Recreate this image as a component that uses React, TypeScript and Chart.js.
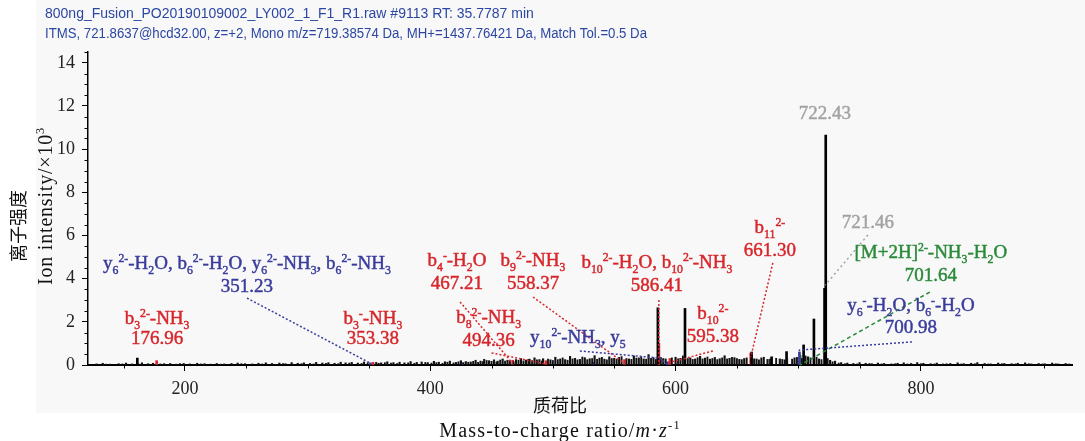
import React, { useEffect, useRef } from "react";
import { Chart, registerables } from "chart.js";

Chart.register(...registerables);

// ---------------- data ----------------
const HEADER_LINE_1 = "800ng_Fusion_PO20190109002_LY002_1_F1_R1.raw #9113 RT: 35.7787 min";
const HEADER_LINE_2 =
  "ITMS, 721.8637@hcd32.00, z=+2, Mono m/z=719.38574 Da, MH+=1437.76421 Da, Match Tol.=0.5 Da";
const X_TITLE_CN = "质荷比";
const X_TITLE_EN = "Mass-to-charge ratio/~{m}·~{z}^{-1}";
const Y_TITLE_CN = "离子强度";
const Y_TITLE_EN = "Ion intensity/×10^{3}";

const X_MIN = 121;
const X_MAX = 923.2;
const Y_MIN = 0;
const Y_MAX = 14.5;
// x ticks every 50, labelled every 200
const X_TICK_VALUES = [150, 200, 250, 300, 350, 400, 450, 500, 550, 600, 650, 700, 750, 800, 850, 900];
const X_TICK_LABELS = [200, 400, 600, 800];
const Y_TICK_STEP = 0.5;
const Y_TICK_LABELS = [0, 2, 4, 6, 8, 10, 12, 14];

// main (black) peaks: [m/z, intensity x10^3]
const MAJOR_PEAKS: [number, number][] = [
  [161.2, 0.32], [585.6, 2.65], [607.7, 2.62], [662.0, 0.6], [678.3, 0.38],
  [690.5, 0.62], [704.4, 0.93], [712.8, 2.13], [721.46, 3.55], [722.43, 10.65],
];

// baseline noise peaks: [m/z, intensity x10^3]
const BASELINE_PEAKS: [number, number][] = [
  [128, 0.05], [133, 0.08], [139, 0.04], [146, 0.06], [152, 0.09], [157, 0.05], [165, 0.1], [170, 0.06],
  [174, 0.08], [183, 0.06], [188, 0.07], [193, 0.04], [199, 0.07], [204, 0.05], [210, 0.08], [216, 0.06],
  [221, 0.04], [226, 0.07], [232, 0.05], [238, 0.07], [243, 0.09], [249, 0.06], [255, 0.05], [260, 0.08],
  [266, 0.1], [271, 0.07], [277, 0.09], [282, 0.06], [287, 0.11], [292, 0.08], [297, 0.1], [302, 0.07],
  [307, 0.12], [312, 0.09], [317, 0.11], [322, 0.08], [327, 0.13], [331, 0.1], [336, 0.12], [341, 0.09],
  [346, 0.14], [356, 0.12], [360, 0.1], [365, 0.15], [370, 0.11], [375, 0.13], [379, 0.1], [384, 0.16],
  [389, 0.12], [393, 0.14], [398, 0.11], [403, 0.17], [407, 0.13], [412, 0.15], [416, 0.18], [421, 0.12],
  [425, 0.2], [429, 0.16], [433, 0.14], [437, 0.22], [441, 0.18], [444, 0.26], [448, 0.2], [452, 0.24],
  [455, 0.18], [459, 0.28], [463, 0.22], [470, 0.25], [474, 0.3], [478, 0.23], [481, 0.27], [485, 0.33],
  [489, 0.25], [492, 0.29], [498, 0.24], [502, 0.36], [506, 0.28], [510, 0.25], [514, 0.4], [518, 0.31],
  [522, 0.26], [526, 0.34], [530, 0.29], [534, 0.43], [538, 0.32], [542, 0.27], [546, 0.38], [550, 0.31],
  [554, 0.35], [562, 0.28], [566, 0.42], [570, 0.33], [574, 0.28], [578, 0.48], [582, 0.34], [590, 0.3],
  [600, 0.36], [604, 0.31], [612, 0.33], [616, 0.28], [620, 0.4], [624, 0.32], [628, 0.27], [632, 0.35],
  [636, 0.29], [640, 0.43], [644, 0.31], [648, 0.34], [652, 0.26], [656, 0.3], [666, 0.28], [670, 0.33],
  [675, 0.26], [685, 0.28], [689, 0.24], [697, 0.33], [708, 0.38], [717, 0.28], [726, 0.22], [730, 0.18],
  [735, 0.11], [740, 0.09], [745, 0.07], [750, 0.11], [755, 0.08], [760, 0.06], [765, 0.09], [770, 0.07],
  [776, 0.05], [781, 0.08], [786, 0.1], [792, 0.07], [797, 0.11], [802, 0.08], [808, 0.06], [813, 0.09],
  [818, 0.05], [824, 0.07], [830, 0.1], [835, 0.06], [841, 0.08], [846, 0.11], [852, 0.07], [857, 0.05],
  [863, 0.09], [868, 0.07], [874, 0.06], [879, 0.08], [885, 0.1], [890, 0.05], [896, 0.07], [901, 0.06],
  [907, 0.09], [912, 0.05], [918, 0.07],
];

const BASELINE_PEAKS_2: [number, number][] = [
  [136, 0.04], [149, 0.05], [162, 0.06], [180, 0.05], [196, 0.06], [213, 0.05], [229, 0.04], [246, 0.06],
  [263, 0.05], [280, 0.07], [295, 0.06], [305, 0.05], [315, 0.08], [325, 0.06], [334, 0.09], [344, 0.07],
  [349, 0.1], [358, 0.08], [363, 0.11], [368, 0.09], [373, 0.07], [382, 0.1], [387, 0.08], [396, 0.12],
  [401, 0.09], [405, 0.11], [410, 0.08], [414, 0.13], [419, 0.1], [423, 0.15], [427, 0.11], [431, 0.13],
  [435, 0.17], [439, 0.12], [443, 0.16], [446, 0.21], [450, 0.17], [454, 0.14], [457, 0.23], [461, 0.18],
  [465, 0.2], [468, 0.15], [472, 0.22], [476, 0.19], [480, 0.26], [483, 0.2], [487, 0.24], [491, 0.19],
  [496, 0.27], [500, 0.21], [504, 0.25], [508, 0.33], [512, 0.22], [516, 0.28], [520, 0.24], [524, 0.37],
  [528, 0.25], [532, 0.3], [536, 0.26], [540, 0.35], [544, 0.24], [548, 0.3], [552, 0.27], [556, 0.39],
  [560, 0.3], [564, 0.26], [568, 0.32], [572, 0.38], [576, 0.27], [580, 0.31], [584, 0.26], [588, 0.35],
  [592, 0.28], [597, 0.33], [602, 0.29], [606, 0.42], [610, 0.3], [614, 0.26], [618, 0.34], [622, 0.28],
  [626, 0.37], [630, 0.3], [634, 0.25], [638, 0.33], [642, 0.28], [646, 0.36], [650, 0.3], [654, 0.25],
  [658, 0.33], [664, 0.29], [668, 0.24], [672, 0.36], [677, 0.27], [682, 0.31], [687, 0.26], [691, 0.3],
  [695, 0.27], [699, 0.35], [703, 0.3], [706, 0.42], [710, 0.33], [715, 0.36], [719, 0.25], [724, 0.3],
  [728, 0.15], [733, 0.09], [738, 0.06], [748, 0.05], [758, 0.07], [768, 0.05], [779, 0.06], [789, 0.05],
  [800, 0.06], [811, 0.05], [821, 0.06], [833, 0.05], [844, 0.06], [855, 0.05], [866, 0.06], [877, 0.05],
  [888, 0.06], [899, 0.05], [910, 0.06], [921, 0.05],
];

// matched ions
const B_ION_PEAKS: [number, number][] = [
  [176.96, 0.2], [353.38, 0.12], [467.21, 0.22], [494.36, 0.2], [558.37, 0.25],
  [586.41, 1.0], [595.38, 0.3], [661.3, 0.55],
];
const Y_ION_PEAKS: [number, number][] = [
  [351.23, 0.1], [425.6, 0.1], [532.8, 0.12], [593.5, 0.15], [700.98, 0.6],
];
const PRECURSOR_PEAKS: [number, number][] = [[701.64, 0.45]];

const RED = "#d8262b";
const BLUE = "#3a3c9c";
const GREEN = "#2a8a3a";
const GRAY = "#a3a3a3";

type Ann = {
  lines: string[];
  color: string;
  at: [number, number];
  gap?: number;
  leader?: [number, number][];
  dash?: number[];
};

const ANNOTATIONS: Ann[] = [
  {
    lines: ["y_6^{2-}-H_2O, b_6^{2-}-H_2O, y_6^{2-}-NH_3, b_6^{2-}-NH_3", "351.23"],
    color: BLUE, at: [250.6, 4.73], leader: [[250.6, 3.1], [351.23, 0.08]], dash: [2, 2],
  },
  { lines: ["b_3^{2-}-NH_3", "176.96"], color: RED, at: [177.3, 2.18], gap: 20 },
  { lines: ["b_3^{-}-NH_3", "353.38"], color: RED, at: [353.3, 2.18], gap: 20 },
  {
    lines: ["b_4^{-}-H_2O", "467.21"], color: RED, at: [421.8, 4.87],
    leader: [[424.3, 2.92], [467.21, 0.08]], dash: [2, 2],
  },
  {
    lines: ["b_9^{2-}-NH_3", "558.37"], color: RED, at: [483.8, 4.87],
    leader: [[483.8, 3.15], [558.37, 0.08]], dash: [2, 2],
  },
  {
    lines: ["b_{10}^{2-}-H_2O, b_{10}^{2-}-NH_3", "586.41"], color: RED, at: [584.8, 4.77],
    leader: [[586.41, 3.01], [586.41, 0]], dash: [2, 2],
  },
  {
    lines: ["b_8^{2-}-NH_3", "494.36"], color: RED, at: [447.6, 2.22],
    leader: [[450, 0.56], [494.36, 0.05]], dash: [2, 2],
  },
  {
    lines: ["y_{10}^{2-}-NH_3, y_5"], color: BLUE, at: [520.4, 1.3],
    leader: [[522, 0.65], [587.3, 0.32], [593.5, 0]], dash: [2, 2],
  },
  {
    lines: ["b_{10}^{2-}", "595.38"], color: RED, at: [630.4, 2.41],
    leader: [[630.4, 0.65], [595.38, 0.12]], dash: [2, 2],
  },
  {
    lines: ["b_{11}^{2-}", "661.30"], color: RED, at: [676.9, 6.39],
    leader: [[679.3, 4.73], [661.3, 0.35]], dash: [2, 2],
  },
  { lines: ["722.43"], color: GRAY, at: [721.8, 11.67] },
  {
    lines: ["721.46"], color: GRAY, at: [756.8, 6.62],
    leader: [[756.8, 6.02], [722.0, 3.7]], dash: [2, 3],
  },
  {
    lines: ["[M+2H]^{2-}-NH_3-H_2O", "701.64"], color: GREEN, at: [808.1, 5.23],
    leader: [[807.3, 3.38], [701.64, 0]], dash: [4, 3],
  },
  {
    lines: ["y_6^{-}-H_2O, b_6^{-}-H_2O", "700.98"], color: BLUE, at: [791.9, 2.78], gap: 22,
    leader: [[792.7, 1.07], [700.98, 0.69], [700.98, 0]], dash: [2, 2],
  },
];

// ---------------- rich text helpers ----------------
type Seg = { t: string; k: "n" | "sub" | "sup" | "it" };

function parseRich(s: string): Seg[] {
  const out: Seg[] = [];
  let buf = "";
  let i = 0;
  while (i < s.length) {
    const c = s[i];
    if ((c === "_" || c === "^" || c === "~") && i + 1 < s.length) {
      if (buf) {
        out.push({ t: buf, k: "n" });
        buf = "";
      }
      let content = "";
      if (s[i + 1] === "{") {
        const j = s.indexOf("}", i + 2);
        content = s.slice(i + 2, j);
        i = j + 1;
      } else {
        content = s[i + 1];
        i += 2;
      }
      out.push({ t: content, k: c === "_" ? "sub" : c === "^" ? "sup" : "it" });
    } else {
      buf += c;
      i++;
    }
  }
  if (buf) out.push({ t: buf, k: "n" });
  return out;
}

function drawRich(
  ctx: CanvasRenderingContext2D,
  s: string,
  cx: number,
  cy: number,
  fs: number,
  family: string,
  color: string,
  stroke = 0,
  spacing = 0
) {
  const segs = parseRich(s);
  const small = fs * 0.62;
  const fontFor = (k: string) =>
    k === "sub" || k === "sup"
      ? `${small}px ${family}`
      : k === "it"
      ? `italic ${fs}px ${family}`
      : `${fs}px ${family}`;
  (ctx as any).letterSpacing = `${spacing}px`;
  let total = 0;
  for (const sg of segs) {
    ctx.font = fontFor(sg.k);
    total += ctx.measureText(sg.t).width;
  }
  let x = cx - total / 2;
  const base = cy + fs * 0.33;
  ctx.fillStyle = color;
  ctx.strokeStyle = color;
  ctx.lineWidth = stroke;
  ctx.setLineDash([]);
  ctx.textBaseline = "alphabetic";
  ctx.textAlign = "left";
  for (const sg of segs) {
    ctx.font = fontFor(sg.k);
    const dy = sg.k === "sub" ? fs * 0.24 : sg.k === "sup" ? -fs * 0.4 : 0;
    ctx.fillText(sg.t, x, base + dy);
    if (stroke > 0) ctx.strokeText(sg.t, x, base + dy);
    x += ctx.measureText(sg.t).width;
  }
  (ctx as any).letterSpacing = "0px";
}

const SERIF = "'Liberation Serif', 'Times New Roman', serif";
const CJK = "'Noto Sans CJK SC', sans-serif";

const decorPlugin = {
  id: "decor",
  beforeDraw(chart: any) {
    const ctx = chart.ctx as CanvasRenderingContext2D;
    ctx.save();
    ctx.fillStyle = "#ffffff";
    ctx.fillRect(0, 0, chart.width, chart.height);
    ctx.fillStyle = "#f8f8f8";
    ctx.fillRect(36, 0, chart.width - 36, 413);
    ctx.restore();
  },
  afterDatasetsDraw(chart: any) {
    const ctx = chart.ctx as CanvasRenderingContext2D;
    const xs = chart.scales.x;
    const ys = chart.scales.y;
    ctx.save();
    for (const a of ANNOTATIONS) {
      if (a.leader) {
        ctx.beginPath();
        a.leader.forEach(([mx, iy], idx) => {
          const px = xs.getPixelForValue(mx);
          const py = ys.getPixelForValue(iy);
          if (idx === 0) ctx.moveTo(px, py);
          else ctx.lineTo(px, py);
        });
        ctx.setLineDash(a.dash || [2, 2]);
        ctx.lineWidth = 1.5;
        ctx.strokeStyle = a.color;
        ctx.stroke();
        ctx.setLineDash([]);
      }
      const cx = xs.getPixelForValue(a.at[0]);
      const cy = ys.getPixelForValue(a.at[1]);
      const gap = a.gap || 23;
      a.lines.forEach((ln, k) => {
        drawRich(ctx, ln, cx, cy + k * gap, 19, SERIF, a.color, 0.45);
      });
    }
    ctx.restore();
  },
  afterDraw(chart: any) {
    const ctx = chart.ctx as CanvasRenderingContext2D;
    const xs = chart.scales.x;
    const ys = chart.scales.y;
    const area = chart.chartArea;
    ctx.save();
    // minor ticks
    ctx.strokeStyle = "#000";
    ctx.lineWidth = 1;
    for (const t of ys.ticks) {
      if (!Y_TICK_LABELS.includes(t.value)) {
        const py = Math.round(ys.getPixelForValue(t.value)) + 0.5;
        ctx.beginPath();
        ctx.moveTo(area.left - 3.5, py);
        ctx.lineTo(area.left, py);
        ctx.stroke();
      }
    }
    for (const t of xs.ticks) {
      if (!X_TICK_LABELS.includes(t.value)) {
        const px = Math.round(xs.getPixelForValue(t.value)) + 0.5;
        ctx.beginPath();
        ctx.moveTo(px, area.bottom);
        ctx.lineTo(px, area.bottom + 3.5);
        ctx.stroke();
      }
    }
    // header
    ctx.fillStyle = "#2c47a3";
    ctx.font = "14px 'Liberation Sans', Arial, sans-serif";
    ctx.textAlign = "left";
    ctx.textBaseline = "middle";
    ctx.fillText(HEADER_LINE_1, 45, 14, 490);
    ctx.fillText(HEADER_LINE_2, 45, 34, 602);
    // x titles
    ctx.fillStyle = "#111";
    ctx.font = `18px ${CJK}`;
    ctx.textAlign = "center";
    ctx.textBaseline = "middle";
    ctx.fillText(X_TITLE_CN, 560, 405);
    drawRich(ctx, X_TITLE_EN, 560, 430, 20, SERIF, "#111", 0, 1.2);
    // y titles
    ctx.save();
    ctx.translate(18, 226);
    ctx.rotate(-Math.PI / 2);
    ctx.fillStyle = "#111";
    ctx.font = `18px ${CJK}`;
    ctx.textAlign = "center";
    ctx.textBaseline = "middle";
    ctx.fillText(Y_TITLE_CN, 0, 0);
    ctx.restore();
    ctx.save();
    ctx.translate(45, 206);
    ctx.rotate(-Math.PI / 2);
    drawRich(ctx, Y_TITLE_EN, 0, 0, 20, SERIF, "#111", 0, 0.8);
    ctx.restore();
    ctx.restore();
  },
};

const toXY = (arr: [number, number][]) => arr.map(([x, y]) => ({ x, y }));

export default function App() {
  const ref = useRef<HTMLCanvasElement | null>(null);
  useEffect(() => {
    if (!ref.current) return;
    const chart = new Chart(ref.current, {
      type: "bar",
      data: {
        datasets: [
          { data: toXY(BASELINE_PEAKS) as any, backgroundColor: "#111", barThickness: 1.5, grouped: false } as any,
          { data: toXY(BASELINE_PEAKS_2) as any, backgroundColor: "#111", barThickness: 1.2, grouped: false } as any,
          { data: toXY(MAJOR_PEAKS) as any, backgroundColor: "#000", barThickness: 2, grouped: false } as any,
          { data: toXY(B_ION_PEAKS) as any, backgroundColor: RED, barThickness: 2, grouped: false } as any,
          { data: toXY(Y_ION_PEAKS) as any, backgroundColor: BLUE, barThickness: 2, grouped: false } as any,
          { data: toXY(PRECURSOR_PEAKS) as any, backgroundColor: GREEN, barThickness: 2, grouped: false } as any,
        ],
      },
      options: {
        animation: false,
        responsive: false,
        maintainAspectRatio: false,
        layout: { padding: { top: 52, right: 13, left: 0, bottom: 0 } },
        plugins: { legend: { display: false }, tooltip: { enabled: false } },
        scales: {
          x: {
            type: "linear",
            min: X_MIN,
            max: X_MAX,
            offset: false,
            afterFit: (s: any) => {
              s.height = 76;
            },
            afterBuildTicks: (s: any) => {
              s.ticks = X_TICK_VALUES.map((v) => ({ value: v }));
            },
            grid: {
              offset: false,
              drawOnChartArea: false,
              tickLength: 6,
              tickWidth: 1,
              tickColor: (c: any) =>
                c.tick && X_TICK_LABELS.includes(c.tick.value) ? "#000" : "rgba(0,0,0,0)",
            },
            border: { display: true, color: "#000", width: 2 },
            ticks: {
              autoSkip: false,
              maxRotation: 0,
              padding: 7,
              color: "#222",
              font: { family: SERIF, size: 18 },
              callback: (v: any) => (X_TICK_LABELS.includes(Number(v)) ? String(v) : ""),
            },
          },
          y: {
            type: "linear",
            min: Y_MIN,
            max: Y_MAX,
            afterFit: (s: any) => {
              s.width = 88;
            },
            grid: {
              drawOnChartArea: false,
              tickLength: 6,
              tickWidth: 1,
              tickColor: (c: any) =>
                c.tick && Y_TICK_LABELS.includes(c.tick.value) ? "#000" : "rgba(0,0,0,0)",
            },
            border: { display: true, color: "#000", width: 1.5 },
            ticks: {
              stepSize: Y_TICK_STEP,
              autoSkip: false,
              padding: 7,
              color: "#222",
              font: { family: SERIF, size: 18 },
              callback: (v: any) => (Y_TICK_LABELS.includes(Number(v)) ? String(v) : ""),
            },
          },
        },
      } as any,
      plugins: [decorPlugin as any],
    });
    return () => chart.destroy();
  }, []);
  return (
    <div style={{ position: "fixed", left: 0, top: 0, width: 1085, height: 441 }}>
      <canvas ref={ref} width={1085} height={441} style={{ display: "block" }} />
    </div>
  );
}
